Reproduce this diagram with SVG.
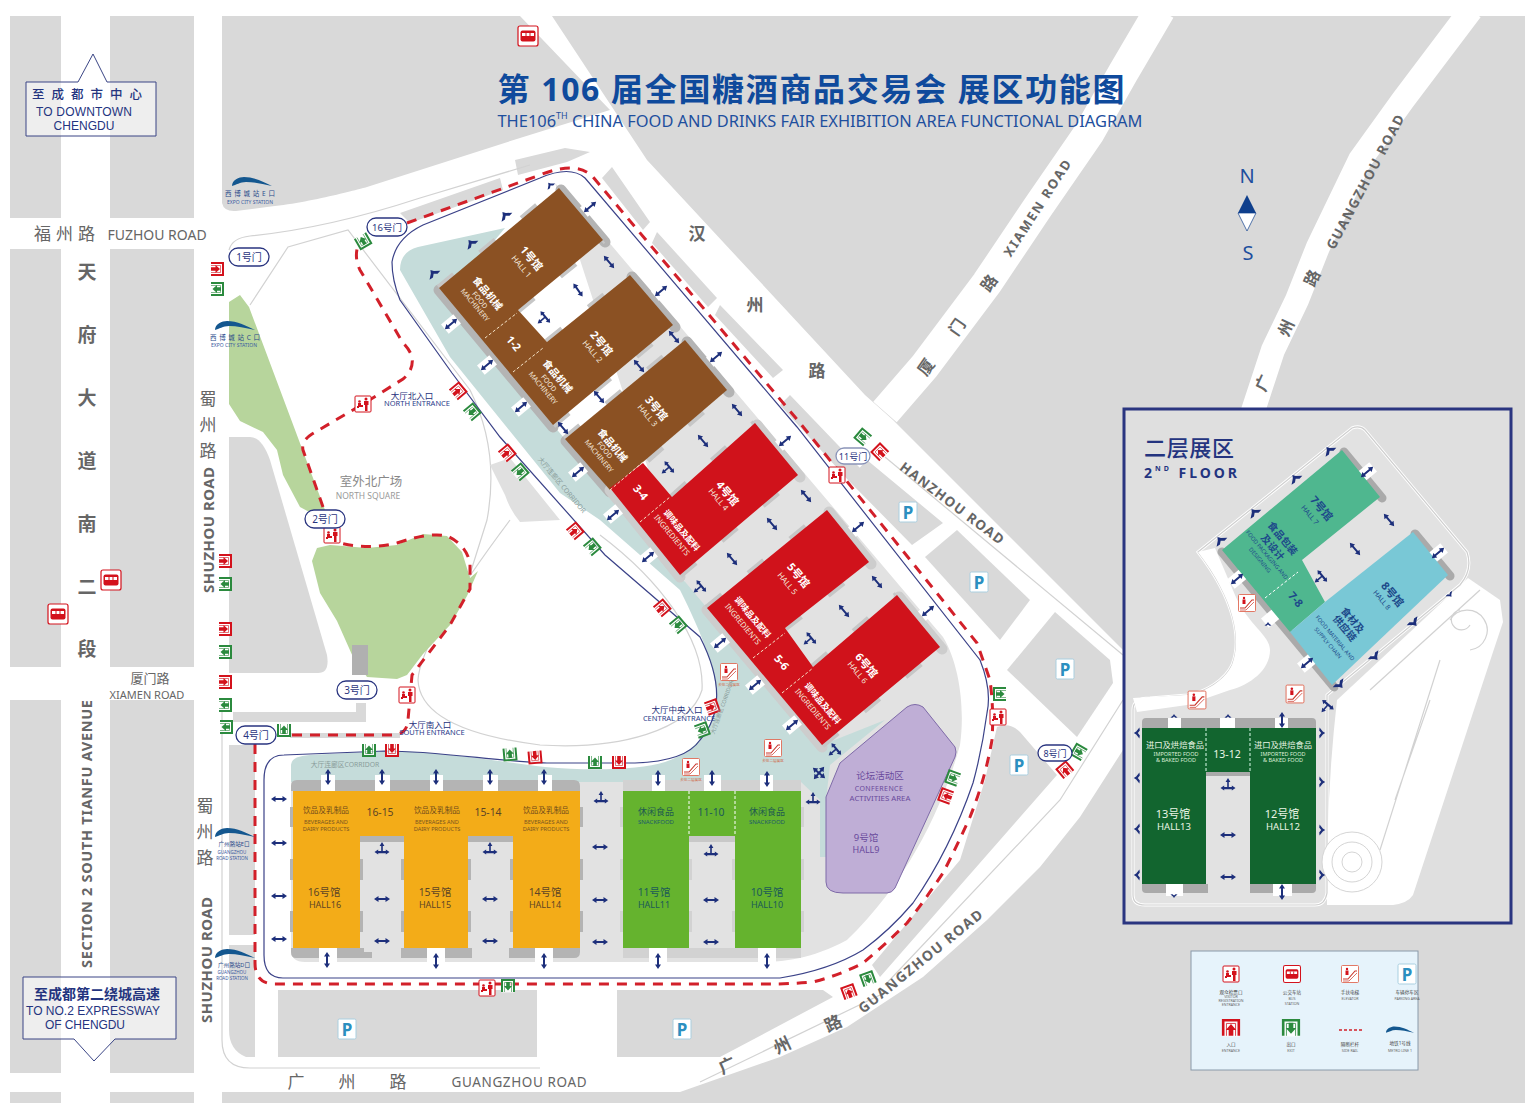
<svg xmlns="http://www.w3.org/2000/svg" width="1525" height="1115" viewBox="0 0 1525 1115">
<style>
text{font-family:"Noto Sans","Noto Sans CJK SC",sans-serif;text-anchor:middle;dominant-baseline:central}
.g{fill:#d9d9d9}.w{fill:#fff}
.rd{fill:#666}.rb{fill:#666;font-weight:700}
.thin{fill:none;stroke:#d2d2d2;stroke-width:1.2}
.dash{fill:none;stroke:#d2202a;stroke-width:3;stroke-dasharray:10 8}
.ring{fill:none;stroke:#3b4288;stroke-width:1.2}
.sd{stroke:#b4b4b4;stroke-width:11;stroke-linecap:round}
.sl{stroke:#cdcdcd;stroke-width:11;stroke-linecap:round}
.bt{stroke:#c6c6c6;stroke-width:7;stroke-dasharray:20 34}
.br{fill:#8b5123}.re{fill:#d0121b}.ye{fill:#f3ac18}.gr{fill:#65b32e}.dg{fill:#12652f}.g7{fill:#4fb78f}.b8{fill:#79c8d6}
.dl{fill:none;stroke:#f4e3c8;stroke-width:1;stroke-dasharray:3 2}
.hn{fill:#fff;font-size:11px;font-weight:700}.hs{fill:#f3e6da;font-size:8px}.hc{fill:#fff;font-size:10px;font-weight:700}.hz{fill:#f3e6da;font-size:7px}.hi{fill:#f3e6da;font-size:7.8px}.hq{fill:#fff;font-size:8.5px;font-weight:700}
.yc{fill:#6e4a1c;font-size:7.7px}.ys{fill:#7a5420;font-size:5.6px}.yb{fill:#5d4526;font-size:10.4px}.yh{fill:#5d4526;font-size:9px}
.gc{fill:#1e5a50;font-size:9px}.gs{fill:#1e5a6a;font-size:6px}.gb{fill:#1b5a58;font-size:10.4px}.gh{fill:#1b5a58;font-size:9px}
.p9{fill:#6a4a9c}
.na{fill:#24347f}.nb{fill:#1d2f7b;font-size:8.5px}.nc{fill:#2a3b8a;font-size:7.5px}
.gate{fill:#fff;stroke:#2a3580;stroke-width:1.3}.gt{fill:#2a3580;font-size:10px}
.co{fill:#8a9d9b;font-size:6.8px}
.lg{fill:#444;font-size:4.6px}.lh{fill:#666;font-size:3.6px}
.mt{fill:#2a4a8a;font-size:6.5px}.mb{fill:#3a5aa0;font-size:5px}.mu{fill:#2a4a8a;font-size:5.6px}.mv{fill:#3a5aa0;font-size:4.5px}
.door{fill:#fff}
.sn{font-family:"Liberation Sans",sans-serif;fill:#24347f}
</style>
<defs>
<path id="a" fill="#1d2f7b" d="M-8,0L-3.5,-3V-1H3.5V-3L8,0L3.5,3V1H-3.5V3Z"/>
<path id="t" fill="#1d2f7b" d="M0,-7L2.4,-3H.8V2H3.8V.4L7.5,3L3.8,5.6V4.2H-3.8V5.6L-7.5,3L-3.8,.4V2H-.8V-3H-2.4Z"/>
<path id="c" fill="#1d2f7b" d="M-7,3L-2,-1L0,-4L2,-1L7,3L3,3.5L0,1L-3,3.5Z"/>
<g id="x"><use href="#a"/><use href="#a" transform="rotate(90)"/></g>
<g id="en"><rect x="-6.5" y="-6.5" width="13" height="13" fill="#fff" opacity=".8"/><path d="M-6,6V-6H6V6" fill="none" stroke="#d3121c" stroke-width="2"/><path d="M-3.5,6V-3.5H3.5V6" fill="none" stroke="#d3121c" stroke-width=".6"/><path d="M0,-3L4,1.5H1.8V6H-1.8V1.5H-4Z" fill="#d3121c"/></g>
<g id="ex"><rect x="-6.5" y="-6.5" width="13" height="13" fill="#fff" opacity=".8"/><path d="M-6,6V-6H6V6" fill="none" stroke="#2b8a3e" stroke-width="2"/><path d="M-3.5,6V-3.5H3.5V6" fill="none" stroke="#2b8a3e" stroke-width=".6"/><path d="M0,4.5L4,0H1.8V-4H-1.8V0H-4Z" fill="#2b8a3e"/></g>
<g id="vi"><rect x="-8" y="-8" width="16" height="16" rx="1" fill="#fff" stroke="#d3121c" stroke-width="1"/><circle cx="-3.5" cy="-2.5" r="1.3" fill="#d3121c"/><path d="M-6,4V2H-5V-1H-2V1H0V3H-4V4Z" fill="#d3121c"/><circle cx="3" cy="-5" r="1.5" fill="#d3121c"/><path d="M1,-3H5.5V1H4.5V7H2V1H1Z" fill="#d3121c"/></g>
<g id="bu"><rect x="-10" y="-10" width="20" height="20" rx="2" fill="#fff" stroke="#d3121c" stroke-width="1.2"/><rect x="-7.5" y="-5.5" width="15" height="11" rx="2" fill="#d3121c"/><path d="M-6,-3H6V0H-6Z" fill="#fff"/><path d="M-2,-3V0M2,-3V0" stroke="#d3121c"/></g>
<g id="el"><rect x="-8.5" y="-8.5" width="17" height="17" rx="1" fill="#fff" stroke="#e06a55" stroke-width=".9"/><path d="M-7,5H-2L5,-3H7" fill="none" stroke="#c9372c" stroke-width="1.1"/><path d="M-7,7H-1L7,-1" fill="none" stroke="#c9372c" stroke-width=".7"/><circle cx="-3" cy="-5" r="1.2" fill="#d3121c"/><path d="M-4.5,-3.5H-1.5V1H-4.5Z" fill="#d3121c"/></g>
<g id="p"><rect x="-9" y="-10" width="18" height="20" rx="1.5" fill="#fff" stroke="#a9cfe0"/><text y="0" font-size="17" font-weight="700" fill="#2b8fc0">P</text></g>
<path id="me" fill="#14578f" d="M-20,4C-20,-2-13,-5-8,-5C2,-5 12,0 20,4C10,2 2,0-6,0C-12,0-16,3-20,4Z"/>
</defs>

<g id="base">
<rect x="10" y="16" width="1515" height="1087" class="g"/>
<path class="w" d="M61,16H110V1103H61ZM194,16H222V1103H194ZM0,218H230V249H0ZM0,667H222V700H0ZM0,1073H230V1092H0Z"/>
<path class="w" d="M222,203Q224,212 236,211L267,207C310,203 367,187 367,187L520,138L610,110L520,16H552L647,160L865,395L893,420L1123,650V750L1080,817L1040,867L987,920L923,977L847,1027L780,1057L680,1092H194V218Z"/>
<path fill="none" stroke="#fff" stroke-width="31" d="M1160,10L1123,73L1089,133L1038,207L987,283L924,367L885,412"/>
<path fill="none" stroke="#fff" stroke-width="24" d="M1471,10L1403,100L1360,160L1318,247L1297,300L1273,350L1250,420"/>
<path class="g" d="M229,437H250Q262,437 270,460L327,655Q330,673 318,673H229Z"/>
<path class="g" d="M233,712H356V703H366V722H233Z"/>
<path class="g" d="M290,733H400V738H290Z"/>
<path class="g" d="M229,745H255V935H229ZM229,945H255V1057H246Q229,1050 229,1030Z"/>
<path class="g" d="M278,990H537V1057H278ZM617,990H823L833,997L720,1057H617Z"/>
<path class="g" d="M400,213L500,178L503,190L410,223ZM515,160L565,148L590,152L567,162L518,175Z"/>
<path class="g" d="M612,167L650,222L643,230L602,178ZM657,232L717,298L708,307L652,243ZM720,305L783,370L773,378L715,315ZM790,395L860,468L848,480L780,405ZM867,460L943,523L912,545L848,480Z"/>
<path class="g" d="M925,557L957,530L1030,600L1000,640Z"/>
<path class="g" d="M1007,670L1055,612L1110,660L1113,683L1077,737Z"/>
<path class="g" d="M997,727Q1010,722 1020,732L1057,775L880,977L872,965L960,860L985,780Z"/>
<path class="thin" d="M229,250Q232,238 250,236C290,232 350,221 420,198L530,165"/>
<path class="thin" d="M250,305L288,247L348,230L470,390Q500,450 487,520L465,590"/>
<path class="thin" d="M222,700V1040Q222,1068 250,1068H540"/>
<path class="thin" d="M885,985L1060,800L1123,700"/>
<path class="thin" d="M700,1082L880,995"/>
<path class="thin" d="M885,457L1123,655"/>
<path class="thin" d="M510,520Q420,640 418,680Q420,730 540,745C620,750 690,730 702,690C705,640 660,580 600,535"/>
<path fill="#e0e0e0" d="M490,465L510,458L560,520L520,522Q510,510 505,495Z"/>
<path fill="#b7d59c" d="M229,302L240,295L249,307L325,510L313,514L300,507L283,475L277,450L263,432L240,421L229,404Z"/>
<path fill="#b7d59c" d="M312,561L317,548L330,545L343,546L367,548L397,545L423,534L447,536L462,552L470,578L478,571L467,596L450,625L423,654L407,675L397,679L367,677L353,657L337,621L320,593Z"/>
<rect x="352" y="645" width="16" height="30" fill="#b0b0b0"/>
<path fill="#e2e2e2" d="M555,183L607,240L943,637C960,665 965,710 960,745C945,800 910,880 847,940C810,960 780,962 760,962H305Q291,962 291,950V782H805L720,690Z"/>
<path fill="#c5dcda" d="M400,270C400,258 406,250 418,247L505,228L470,270L553,425L600,480L707,608L822,745L885,720L830,765L826,800V857H820V800L801,782H291V765C292,758 298,756 310,755L385,751C440,751 500,762 545,767C590,771 640,770 665,762C695,752 712,730 716,705C720,680 705,640 680,590L600,520L560,493L450,357Z"/>
</g>

<g id="connectors">
<path class="ring" d="M392,262Q396,238 423,225L540,178Q570,165 585,178L797,427L980,660Q992,690 987,713Q982,750 973,783Q950,850 913,903Q890,930 863,950Q830,970 780,978H283Q264,978 264,955V780Q264,755 284,755L385,751C440,751 500,762 547,763H635C665,762 690,755 700,740C722,715 722,680 700,637L605,555L500,437L452,373L400,300Q392,280 392,262Z"/>
<path class="dash" d="M407,223L540,175Q577,160 593,177L800,423L977,643L990,680Q994,710 992,740Q985,780 970,817Q955,850 943,873Q925,900 907,923Q885,945 863,963Q840,975 813,982Q790,984 770,984H275Q255,984 255,963V735"/>
<path class="dash" d="M292,735H392Q407,735 408,720L412,675L450,625L470,589V564Q467,545 447,536Q430,532 397,543Q370,550 340,543"/>
<path class="dash" d="M323,507L303,450Q301,441 312,434L363,404L403,379Q414,370 412,357Q410,350 403,343L360,270Q354,258 358,245"/>
</g>

<g id="hall-strips">
<path class="sd" d="M561,190L605,242M632,277L675,327M687,342L729,392M439,290L553,427M566,441L610,492"/>
<path class="sl" d="M757,425L800,477M829,512L871,564M899,597L942,649M610,490L680,577M707,610L822,747"/>
<path class="bt" d="M439,288L559,188M518,310L603,240M547,342L630,275M553,425L673,325M565,439L685,340M647,460L727,390M672,497L755,423M680,575L798,475M707,608L827,510M785,628L869,562M813,667L897,595M822,745L940,647"/>
<g class="door">
<rect x="-8" y="-6" width="16" height="12" transform="translate(590,207) rotate(-40)"/>
<rect x="-8" y="-6" width="16" height="12" transform="translate(661,291) rotate(-40)"/>
<rect x="-8" y="-6" width="16" height="12" transform="translate(716,357) rotate(-40)"/>
<rect x="-8" y="-6" width="16" height="12" transform="translate(785,441) rotate(-40)"/>
<rect x="-8" y="-6" width="16" height="12" transform="translate(858,527) rotate(-40)"/>
<rect x="-8" y="-6" width="16" height="12" transform="translate(928,611) rotate(-40)"/>
<rect x="-8" y="-6" width="16" height="12" transform="translate(451,324) rotate(-40)"/>
<rect x="-8" y="-6" width="16" height="12" transform="translate(487,365) rotate(-40)"/>
<rect x="-8" y="-6" width="16" height="12" transform="translate(521,407) rotate(-40)"/>
<rect x="-8" y="-6" width="16" height="12" transform="translate(578,472) rotate(-40)"/>
<rect x="-8" y="-6" width="16" height="12" transform="translate(613,514) rotate(-40)"/>
<rect x="-8" y="-6" width="16" height="12" transform="translate(648,557) rotate(-40)"/>
<rect x="-8" y="-6" width="16" height="12" transform="translate(720,643) rotate(-40)"/>
<rect x="-8" y="-6" width="16" height="12" transform="translate(755,685) rotate(-40)"/>
<rect x="-8" y="-6" width="16" height="12" transform="translate(792,725) rotate(-40)"/>
</g>
<path fill="#b4b4b4" d="M291,791V786Q291,780 297,780H574Q580,780 580,786V791ZM291,948H364V952H372V958H296Q291,958 291,952ZM401,948H472V958H401ZM509,948H580V952Q580,958 574,958H509Z"/>
<path fill="#d2d2d2" d="M623,791V780H801V791ZM623,948H801V958H623Z"/>
<path fill="#b4b4b4" d="M360,836H404V842H360ZM468,836H513V842H468Z"/>
<path fill="#c8c8c8" d="M689,836H735V842H689Z"/>
<path fill="#b4b4b4" d="M290,807H293V827H290ZM290,859H293V880H290ZM290,911H293V932H290ZM360,859H363V880H360ZM360,911H363V932H360ZM401,859H404V880H401ZM401,911H404V932H401ZM468,859H471V880H468ZM468,911H471V932H468ZM510,859H513V880H510ZM510,911H513V932H510ZM580,807H583V827H580ZM580,859H583V880H580ZM580,911H583V932H580Z"/>
<path fill="#d2d2d2" d="M620,807H623V827H620ZM620,859H623V880H620ZM620,911H623V932H620ZM689,859H692V880H689ZM689,911H692V932H689ZM732,859H735V880H732ZM732,911H735V932H732ZM801,807H804V827H801ZM801,859H804V880H801ZM801,911H804V932H801Z"/>
<path class="door" d="M321,775H335V791H321ZM375,775H390V791H375ZM430,775H443V791H430ZM483,775H498V791H483ZM538,775H552V791H538ZM652,775H665V791H652ZM704,775H721V791H704ZM760,775H773V791H760ZM319,948H337V962H319ZM427,948H445V962H427ZM535,948H553V962H535ZM649,948H667V962H649ZM758,948H776V962H758Z"/>
</g>

<g id="hall-1-2">
<path class="br" d="M559,188L603,240L518,310L547,342L630,275L673,325L553,425L439,288Z"/>
<path class="dl" d="M485,338L517,313M513,372L543,348"/>
<text class="hn" transform="translate(532,258) rotate(50)">1号馆</text><text class="hs" transform="translate(522,266) rotate(50)">HALL 1</text>
<text class="hc" transform="translate(488,293) rotate(50)">食品机械</text><text class="hz" transform="translate(480,300) rotate(50)">FOOD</text><text class="hz" transform="translate(475,305) rotate(50)">MACHINERY</text>
<text class="hn" transform="translate(514,343) rotate(50)">1-2</text>
<text class="hn" transform="translate(602,343) rotate(50)">2号馆</text><text class="hs" transform="translate(593,351) rotate(50)">HALL 2</text>
<text class="hc" transform="translate(558,376) rotate(50)">食品机械</text><text class="hz" transform="translate(549,383) rotate(50)">FOOD</text><text class="hz" transform="translate(543,388) rotate(50)">MACHINERY</text>
</g>
<g id="hall-3">
<path class="br" d="M685,340L727,390L643,462L610,490L565,439Z"/>
<text class="hn" transform="translate(657,408) rotate(50)">3号馆</text><text class="hs" transform="translate(648,415) rotate(50)">HALL 3</text>
<text class="hc" transform="translate(613,445) rotate(50)">食品机械</text><text class="hz" transform="translate(605,450) rotate(50)">FOOD</text><text class="hz" transform="translate(599,456) rotate(50)">MACHINERY</text>
</g>
<g id="hall-4">
<path class="re" d="M610,488L643,463L672,497L755,423L798,475L680,575Z"/>
<path class="dl" d="M610,490L643,462M640,522L670,497"/>
<text class="hn" transform="translate(641,492) rotate(50)">3-4</text>
<text class="hn" transform="translate(728,493) rotate(50)">4号馆</text><text class="hs" transform="translate(719,499) rotate(50)">HALL 4</text>
<text class="hq" transform="translate(682,530) rotate(50)">调味品及配料</text><text class="hi" transform="translate(672,535) rotate(50)">INGREDIENTS</text>
</g>
<g id="hall-5-6">
<path class="re" d="M707,608L827,510L869,562L785,628L813,667L897,595L940,647L822,745Z"/>
<path class="dl" d="M753,658L785,633M782,693L813,668"/>
<text class="hn" transform="translate(799,575) rotate(50)">5号馆</text><text class="hs" transform="translate(788,583) rotate(50)">HALL 5</text>
<text class="hq" transform="translate(753,617) rotate(50)">调味品及配料</text><text class="hi" transform="translate(743,624) rotate(50)">INGREDIENTS</text>
<text class="hn" transform="translate(782,662) rotate(50)">5-6</text>
<text class="hn" transform="translate(867,665) rotate(50)">6号馆</text><text class="hs" transform="translate(858,672) rotate(50)">HALL 6</text>
<text class="hq" transform="translate(823,703) rotate(50)">调味品及配料</text><text class="hi" transform="translate(813,709) rotate(50)">INGREDIENTS</text>
</g>
<g id="hall-9">
<path fill="#bfaed6" stroke="#7e6aa8" d="M826,797L840,763L907,707Q915,702 923,707L955,747Q957,752 955,757L895,888Q892,893 887,893H843Q826,893 826,882Z"/>
<text class="p9" x="880" y="775" font-size="9.5">论坛活动区</text>
<text class="p9" x="879" y="788" font-size="7" letter-spacing=".4">CONFERENCE</text>
<text class="p9" x="880" y="798" font-size="7.8">ACTIVITIES AREA</text>
<text class="p9" x="866" y="837" font-size="9.5">9号馆</text>
<text class="p9" x="866" y="849" font-size="9">HALL9</text>
</g>
<g id="hall-16-15-14">
<path class="ye" d="M293,791H580V948H513V836H468V948H404V836H360V948H293Z"/>
<text class="yc" x="326" y="810">饮品及乳制品</text><text class="ys" x="326" y="822">BEVERAGES AND</text><text class="ys" x="326" y="829">DAIRY PRODUCTS</text>
<text class="yb" x="380" y="812">16-15</text><text class="yb" x="324" y="892">16号馆</text><text class="yh" x="325" y="904">HALL16</text>
<text class="yc" x="437" y="810">饮品及乳制品</text><text class="ys" x="437" y="822">BEVERAGES AND</text><text class="ys" x="437" y="829">DAIRY PRODUCTS</text>
<text class="yb" x="488" y="812">15-14</text><text class="yb" x="435" y="892">15号馆</text><text class="yh" x="435" y="904">HALL15</text>
<text class="yc" x="546" y="810">饮品及乳制品</text><text class="ys" x="546" y="822">BEVERAGES AND</text><text class="ys" x="546" y="829">DAIRY PRODUCTS</text>
<text class="yb" x="545" y="892">14号馆</text><text class="yh" x="545" y="904">HALL14</text>
</g>
<g id="hall-11-10">
<path class="gr" d="M623,791H801V948H735V836H689V948H623Z"/>
<path fill="none" stroke="#fff" stroke-dasharray="3 2" d="M689,791V836M735,791V836"/>
<text class="gc" x="656" y="811">休闲食品</text><text class="gs" x="656" y="822">SNACKFOOD</text>
<text class="gb" x="711" y="812">11-10</text>
<text class="gc" x="767" y="811">休闲食品</text><text class="gs" x="767" y="822">SNACKFOOD</text>
<text class="gb" x="654" y="892">11号馆</text><text class="gh" x="654" y="904">HALL11</text>
<text class="gb" x="767" y="892">10号馆</text><text class="gh" x="767" y="904">HALL10</text>
</g>

<g id="arrows">
<use href="#a" transform="translate(590,207) rotate(-40)"/><use href="#a" transform="translate(609,262) rotate(50)"/><use href="#a" transform="translate(578,290) rotate(55)"/><use href="#a" transform="translate(661,291) rotate(-40)"/><use href="#a" transform="translate(674,337) rotate(50)"/><use href="#a" transform="translate(639,366) rotate(50)"/><use href="#a" transform="translate(599,397) rotate(50)"/><use href="#a" transform="translate(563,428) rotate(50)"/><use href="#a" transform="translate(716,357) rotate(-40)"/><use href="#a" transform="translate(737,410) rotate(50)"/><use href="#a" transform="translate(703,441) rotate(50)"/><use href="#a" transform="translate(785,441) rotate(-40)"/><use href="#a" transform="translate(451,324) rotate(-40)"/><use href="#a" transform="translate(487,365) rotate(-40)"/><use href="#a" transform="translate(521,407) rotate(-40)"/><use href="#a" transform="translate(578,472) rotate(-40)"/><use href="#a" transform="translate(613,515) rotate(-40)"/><use href="#a" transform="translate(648,557) rotate(-40)"/>
<use href="#a" transform="translate(806,496) rotate(50)"/><use href="#a" transform="translate(772,524) rotate(50)"/><use href="#a" transform="translate(732,559) rotate(50)"/><use href="#a" transform="translate(858,527) rotate(-40)"/><use href="#a" transform="translate(877,582) rotate(50)"/><use href="#a" transform="translate(844,611) rotate(50)"/><use href="#a" transform="translate(928,611) rotate(-40)"/><use href="#a" transform="translate(720,643) rotate(-40)"/><use href="#a" transform="translate(755,685) rotate(-40)"/><use href="#a" transform="translate(792,725) rotate(-40)"/>
<use href="#t" transform="translate(543,319) rotate(-130)"/><use href="#t" transform="translate(667,469) rotate(-130)"/><use href="#t" transform="translate(699,588) rotate(-130)"/><use href="#t" transform="translate(809,640) rotate(-130)"/><use href="#t" transform="translate(834,751) rotate(-130)"/>
<use href="#c" transform="translate(550,185) rotate(-40) scale(.7)"/><use href="#c" transform="translate(505,215) rotate(-40)"/><use href="#c" transform="translate(471,243) rotate(-40)"/><use href="#c" transform="translate(433,273) rotate(-40)"/>
<use href="#x" transform="translate(819,773) rotate(40)"/>
<use href="#a" transform="translate(328,777) rotate(90)"/><use href="#a" transform="translate(382,777) rotate(90)"/><use href="#a" transform="translate(436,777) rotate(90)"/><use href="#a" transform="translate(490,777) rotate(90)"/><use href="#a" transform="translate(544,777) rotate(90)"/><use href="#a" transform="translate(658,778) rotate(90)"/><use href="#a" transform="translate(712,778) rotate(90)"/><use href="#a" transform="translate(767,779) rotate(90)"/>
<use href="#a" transform="translate(279,799)"/><use href="#a" transform="translate(279,843)"/><use href="#a" transform="translate(279,896)"/><use href="#a" transform="translate(279,939)"/>
<use href="#t" transform="translate(382,849)"/><use href="#t" transform="translate(490,849)"/><use href="#t" transform="translate(601,798)"/><use href="#t" transform="translate(711,851)"/><use href="#t" transform="translate(813,799)"/>
<use href="#a" transform="translate(382,899)"/><use href="#a" transform="translate(382,941)"/><use href="#a" transform="translate(490,899)"/><use href="#a" transform="translate(490,941)"/><use href="#a" transform="translate(600,847)"/><use href="#a" transform="translate(600,900)"/><use href="#a" transform="translate(600,942)"/><use href="#a" transform="translate(711,900)"/><use href="#a" transform="translate(711,942)"/>
<use href="#a" transform="translate(327,960) rotate(90)"/><use href="#a" transform="translate(436,961) rotate(90)"/><use href="#a" transform="translate(544,961) rotate(90)"/><use href="#a" transform="translate(658,961) rotate(90)"/><use href="#a" transform="translate(767,961) rotate(90)"/>
</g>

<g id="entrances">
<use href="#en" transform="translate(217,269) rotate(90)"/><use href="#ex" transform="translate(217,289) rotate(90)"/><use href="#en" transform="translate(225,561) rotate(90)"/><use href="#ex" transform="translate(225,584) rotate(90)"/><use href="#en" transform="translate(225,629) rotate(90)"/><use href="#ex" transform="translate(225,652) rotate(90)"/><use href="#en" transform="translate(225,682) rotate(90)"/><use href="#ex" transform="translate(225,705) rotate(90)"/><use href="#ex" transform="translate(226,727) rotate(90)"/>
<use href="#ex" transform="translate(284,730) rotate(180)"/><use href="#ex" transform="translate(363,241) rotate(150)"/>
<use href="#en" transform="translate(458,391) rotate(50)"/><use href="#ex" transform="translate(472,412) rotate(50)"/><use href="#en" transform="translate(507,453) rotate(50)"/><use href="#ex" transform="translate(520,472) rotate(50)"/><use href="#en" transform="translate(575,531) rotate(50)"/><use href="#ex" transform="translate(592,547) rotate(50)"/><use href="#en" transform="translate(662,608) rotate(50)"/><use href="#ex" transform="translate(678,625) rotate(50)"/><use href="#en" transform="translate(712,707) rotate(70)"/><use href="#ex" transform="translate(702,730) rotate(70)"/>
<use href="#ex" transform="translate(369,750) rotate(180)"/><use href="#en" transform="translate(392,750) rotate(180)"/><use href="#ex" transform="translate(510,754) rotate(175)"/><use href="#en" transform="translate(535,757) rotate(175)"/><use href="#ex" transform="translate(595,762) rotate(180)"/><use href="#en" transform="translate(619,762) rotate(180)"/>
<use href="#ex" transform="translate(508,986)"/><use href="#en" transform="translate(849,992) rotate(-20)"/><use href="#ex" transform="translate(868,979) rotate(-20)"/>
<use href="#ex" transform="translate(1000,694) rotate(-90)"/><use href="#ex" transform="translate(953,778) rotate(-70)"/><use href="#en" transform="translate(946,796) rotate(-70)"/><use href="#ex" transform="translate(1079,752) rotate(-60)"/><use href="#en" transform="translate(1065,770) rotate(-40)"/><use href="#ex" transform="translate(863,437) rotate(-50)"/><use href="#en" transform="translate(880,452) rotate(-45)"/>
<use href="#vi" x="363" y="404"/><use href="#vi" x="332" y="535"/><use href="#vi" x="407" y="695"/><use href="#vi" x="487" y="988"/><use href="#vi" x="998" y="717"/><use href="#vi" x="837" y="475"/>
<use href="#el" x="729" y="672"/><use href="#el" x="773" y="748"/><use href="#el" x="691" y="767"/>
<text fill="#d0603a" font-size="3.6" x="729" y="684">去往二层展区</text><text fill="#d0603a" font-size="3.6" x="773" y="760">去往二层展区</text><text fill="#d0603a" font-size="3.6" x="691" y="779">去往二层展区</text>
<use href="#bu" x="528" y="36"/><use href="#bu" x="111" y="580"/><use href="#bu" x="58" y="614"/>
<use href="#p" x="908" y="512"/><use href="#p" x="979" y="582"/><use href="#p" x="1065" y="669"/><use href="#p" x="1019" y="765"/><use href="#p" x="347" y="1029"/><use href="#p" x="682" y="1029"/>
</g>

<g id="gates">
<g id="gate-1"><rect class="gate" x="229" y="248" width="40" height="18" rx="9"/><text class="gt" x="249" y="257">1号门</text></g>
<g id="gate-16"><rect class="gate" x="367" y="218" width="40" height="18" rx="9"/><text class="gt" x="387" y="227" style="font-size:9.5px">16号门</text></g>
<g id="gate-2"><rect class="gate" x="305" y="510" width="40" height="18" rx="9"/><text class="gt" x="325" y="519">2号门</text></g>
<g id="gate-3"><rect class="gate" x="337" y="681" width="40" height="18" rx="9"/><text class="gt" x="357" y="690">3号门</text></g>
<g id="gate-4"><rect class="gate" x="236" y="726" width="40" height="18" rx="9"/><text class="gt" x="256" y="735">4号门</text></g>
<g id="gate-8"><rect class="gate" x="1038" y="745" width="34" height="16" rx="8"/><text class="gt" x="1055" y="753" style="font-size:9px">8号门</text></g>
<g id="gate-11"><rect class="gate" x="836" y="448" width="34" height="16" rx="8" style="stroke:#8a94b8"/><text class="gt" x="853" y="456" style="font-size:9px">11号门</text></g>
</g>

<g id="labels">
<text class="nb" x="412" y="395">大厅北入口</text><text class="nc" x="417" y="403">NORTH ENTRANCE</text>
<text class="nb" x="430" y="724">大厅南入口</text><text class="nc" x="432" y="732">SOUTH ENTRANCE</text>
<text class="nb" x="677" y="709">大厅中央入口</text><text class="nc" x="679" y="718">CENTRAL ENTRANCE</text>
<text fill="#888" font-size="12.5" x="371" y="481">室外北广场</text><text fill="#999" font-size="8.5" x="368" y="495">NORTH SQUARE</text>
<text class="co" transform="translate(562,485) rotate(50)">大厅连廊区 CORRIDOR</text>
<text class="co" x="345" y="764">大厅连廊区CORRIDOR</text>
<text class="co" transform="translate(722,707) rotate(-70)" style="font-size:5.5px">大厅连廊区 CORRIDOR</text>
</g>

<g id="stations">
<use href="#me" x="252" y="182"/><text class="mt" x="250" y="193" textLength="50" lengthAdjust="spacing">西博城站E口</text><text class="mb" x="250" y="202">EXPO CITY STATION</text>
<use href="#me" x="235" y="326"/><text class="mt" x="235" y="337" textLength="50" lengthAdjust="spacing">西博城站C口</text><text class="mb" x="234" y="345">EXPO CITY STATION</text>
<use href="#me" x="235" y="833"/><text class="mu" x="234" y="844">广州路站E口</text><text class="mv" x="232" y="852">GUANGZHOU</text><text class="mv" x="232" y="858">ROAD STATION</text>
<use href="#me" x="235" y="954"/><text class="mu" x="234" y="965">广州路站D口</text><text class="mv" x="232" y="972">GUANGZHOU</text><text class="mv" x="232" y="978">ROAD STATION</text>
</g>

<g id="road-labels">
<text class="rd" x="67" y="233" font-size="17" letter-spacing="5">福州路</text><text class="rd" x="157" y="234" font-size="14">FUZHOU ROAD</text>
<text class="rb" font-size="19" x="87" y="272">天</text><text class="rb" font-size="19" x="87" y="335">府</text><text class="rb" font-size="19" x="87" y="398">大</text><text class="rb" font-size="19" x="87" y="461">道</text><text class="rb" font-size="19" x="87" y="524">南</text><text class="rb" font-size="19" x="87" y="587">二</text><text class="rb" font-size="19" x="87" y="649">段</text>
<text class="rb" font-size="14.5" transform="translate(86,834) rotate(-90)" textLength="268" lengthAdjust="spacing">SECTION 2 SOUTH TIANFU AVENUE</text>
<text class="rd" font-size="17" x="208" y="398">蜀</text><text class="rd" font-size="17" x="208" y="424">州</text><text class="rd" font-size="17" x="208" y="450">路</text>
<text class="rb" font-size="15" transform="translate(208,530) rotate(-90)" textLength="126" lengthAdjust="spacing">SHUZHOU ROAD</text>
<text class="rd" font-size="17" x="205" y="805">蜀</text><text class="rd" font-size="17" x="205" y="831">州</text><text class="rd" font-size="17" x="205" y="857">路</text>
<text class="rb" font-size="15" transform="translate(206,960) rotate(-90)" textLength="126" lengthAdjust="spacing">SHUZHOU ROAD</text>
<text class="rd" font-size="13" x="150" y="678">厦门路</text><text class="rd" font-size="11" x="147" y="694">XIAMEN ROAD</text>
<text class="rd" font-size="17" x="296" y="1081">广</text><text class="rd" font-size="17" x="347" y="1081">州</text><text class="rd" font-size="17" x="398" y="1081">路</text>
<text class="rd" font-size="13.5" x="519" y="1082" textLength="135" lengthAdjust="spacing">GUANGZHOU ROAD</text>
<text class="rb" font-size="17" x="697" y="233">汉</text><text class="rb" font-size="17" x="755" y="304">州</text><text class="rb" font-size="17" x="817" y="370">路</text>
<text class="rb" font-size="13.5" transform="translate(952,503) rotate(37)" textLength="126" lengthAdjust="spacing">HANZHOU ROAD</text>
<text class="rb" font-size="16" transform="translate(926,367) rotate(-55)">厦</text><text class="rb" font-size="16" transform="translate(957,327) rotate(-55)">门</text><text class="rb" font-size="16" transform="translate(989,283) rotate(-55)">路</text>
<text class="rb" font-size="13" transform="translate(1037,208) rotate(-57)" textLength="112" lengthAdjust="spacing">XIAMEN ROAD</text>
<text class="rb" font-size="16" transform="translate(1263,383) rotate(-65)">广</text><text class="rb" font-size="16" transform="translate(1286,328) rotate(-65)">州</text><text class="rb" font-size="16" transform="translate(1312,278) rotate(-65)">路</text>
<text class="rb" font-size="13.5" transform="translate(1365,182) rotate(-62)" textLength="150" lengthAdjust="spacing">GUANGZHOU ROAD</text>
<text class="rb" font-size="17" transform="translate(727,1065) rotate(-25)">广</text><text class="rb" font-size="17" transform="translate(782,1045) rotate(-25)">州</text><text class="rb" font-size="17" transform="translate(833,1023) rotate(-25)">路</text>
<text class="rb" font-size="14" transform="translate(920,961) rotate(-39)" textLength="155" lengthAdjust="spacing">GUANGZHOU ROAD</text>
</g>

<g id="title">
<text x="811" y="88" font-size="32" font-weight="700" fill="#0f4a9c" textLength="627" lengthAdjust="spacing">第 106 届全国糖酒商品交易会 展区功能图</text>
<text x="820" y="120" font-size="16.5" fill="#1e4f9e" textLength="645" lengthAdjust="spacingAndGlyphs">THE106<tspan font-size="9" dy="-5">TH</tspan><tspan dy="5"> CHINA FOOD AND DRINKS FAIR  EXHIBITION AREA FUNCTIONAL DIAGRAM</tspan></text>
</g>

<g id="compass">
<text x="1247" y="175" font-size="20" fill="#1e4f9e">N</text>
<path d="M1247,195L1256,213H1238Z" fill="#0f3f8c"/><path d="M1238,213H1256L1247,231Z" fill="#fff" stroke="#0f3f8c" stroke-width=".7"/>
<text x="1248" y="252" font-size="20" fill="#1e4f9e">S</text>
</g>

<g id="to-downtown">
<path d="M26,82H78L93,54L107,82H156V136H26Z" fill="#fff" fill-opacity=".55" stroke="#3a4585"/>
<text x="87" y="94" font-size="12.5" fill="#24347f" font-weight="500" textLength="110" lengthAdjust="spacing">至成都市中心</text>
<text class="sn" x="84" y="112" font-size="12" textLength="96" lengthAdjust="spacing">TO DOWNTOWN</text><text class="sn" x="84" y="126" font-size="12" textLength="61" lengthAdjust="spacing">CHENGDU</text>
</g>
<g id="to-expressway">
<path d="M23,977H176V1039H115L94,1061L74,1039H23Z" fill="#fff" fill-opacity=".55" stroke="#3a4585"/>
<text x="97" y="993" font-size="14" font-weight="700" fill="#24347f">至成都第二绕城高速</text>
<text class="sn" x="93" y="1011" font-size="12" textLength="134" lengthAdjust="spacing">TO NO.2 EXPRESSWAY</text><text class="sn" x="85" y="1025" font-size="12" textLength="80" lengthAdjust="spacing">OF CHENGDU</text>
</g>

<g id="second-floor">
<rect x="1124" y="409" width="387" height="514" fill="#dfdfdf" stroke="#2a3580" stroke-width="3"/>
<path fill="#fff" d="M1337,700L1468,578L1500,600L1503,622L1493,652L1413,895Q1408,903 1393,905H1327V860Q1328,780 1337,700Z"/>
<path fill="#e2e2e2" stroke="#fff" stroke-width="3" d="M1198,552L1352,428Q1360,425 1365,430L1467,552Q1473,570 1460,585L1327,695V893Q1325,905 1315,905H1145Q1133,905 1133,895V710Q1133,698 1150,698L1187,695C1205,693 1225,680 1232,665C1242,640 1235,600 1198,552Z"/>
<path fill="none" stroke="#cfcfcf" stroke-width="1.2" d="M1198,552L1352,428Q1360,425 1365,430L1467,552Q1473,570 1460,585L1327,695V893Q1325,905 1315,905H1145Q1133,905 1133,895V710Q1133,698 1150,698L1187,695C1205,693 1225,680 1232,665C1242,640 1235,600 1198,552Z"/>
<path fill="#fff" d="M1198,552L1215,548L1235,595C1248,625 1270,635 1270,650C1270,670 1250,685 1230,690L1187,705L1137,712L1133,698L1187,695C1205,693 1225,680 1232,665C1242,640 1235,600 1198,552Z"/>
<circle cx="1352" cy="862" r="30" fill="#fff" stroke="#d5d5d5"/><circle cx="1352" cy="862" r="20" fill="none" stroke="#d5d5d5"/><circle cx="1352" cy="862" r="10" fill="none" stroke="#d5d5d5"/>
<path class="thin" d="M1450,620A20,20 0 1,1 1470,650M1460,610A10,10 0 1,0 1470,625M1370,690L1480,590M1440,660L1380,850M1430,700L1395,800"/>
<path stroke="#aaa" stroke-width="9" stroke-linecap="round" d="M1344,452L1382,498M1415,534L1450,576M1222,552L1290,634M1290,634L1334,687"/>
<rect class="door" x="-8" y="-6" width="16" height="12" transform="translate(1367,472) rotate(-40)"/>
<rect class="door" x="-8" y="-6" width="16" height="12" transform="translate(1438,553) rotate(-40)"/>
<rect class="door" x="-8" y="-6" width="16" height="12" transform="translate(1237,579) rotate(-40)"/>
<rect class="door" x="-8" y="-6" width="16" height="12" transform="translate(1271,618) rotate(-40)"/>
<rect class="door" x="-8" y="-6" width="16" height="12" transform="translate(1307,663) rotate(-40)"/>
<path fill="#aaa" d="M1142,728V722Q1142,718 1146,718H1312Q1316,718 1316,722V728ZM1142,884H1208V893H1146Q1142,893 1142,889ZM1250,884H1316V889Q1316,893 1312,893H1250Z"/>
<path class="door" d="M1168,718H1181V728H1168ZM1220,718H1235V728H1220ZM1275,718H1288V728H1275ZM1166,884H1183V896H1166ZM1273,884H1292V896H1273Z"/>
<path fill="#aaa" d="M1206,772H1250V776H1206Z"/>
<g id="hall-7"><path class="g7" d="M1342,450L1380,497L1302,560L1325,602L1290,632L1222,550Z"/>
<path fill="none" stroke="#fff" stroke-dasharray="3 2" d="M1265,598L1298,572"/>
<text font-size="11" font-weight="700" fill="#1d4a8a" transform="translate(1322,508) rotate(50)">7号馆</text><text font-size="7" fill="#1d4a8a" transform="translate(1310,515) rotate(50)">HALL 7</text>
<text font-size="10" font-weight="700" fill="#1d4a8a" transform="translate(1283,538) rotate(50)">食品包装</text><text font-size="10" font-weight="700" fill="#1d4a8a" transform="translate(1273,547) rotate(50)">及设计</text>
<text font-size="5.6" fill="#1d4a8a" transform="translate(1267,555) rotate(50)">FOOD PACKAGING AND</text><text font-size="5.6" fill="#1d4a8a" transform="translate(1260,560) rotate(50)">DESIGNING</text>
<text font-size="11" font-weight="700" fill="#1d4a8a" transform="translate(1296,599) rotate(50)">7-8</text></g>
<g id="hall-8"><path class="b8" d="M1413,532L1448,575L1332,685L1290,632L1325,602Z"/>
<text font-size="11" font-weight="700" fill="#1d4a8a" transform="translate(1393,594) rotate(50)">8号馆</text><text font-size="7" fill="#1d4a8a" transform="translate(1382,600) rotate(50)">HALL 8</text>
<text font-size="10" font-weight="700" fill="#1d4a8a" transform="translate(1353,620) rotate(50)">食材及</text><text font-size="10" font-weight="700" fill="#1d4a8a" transform="translate(1345,628) rotate(50)">供应链</text>
<text font-size="5.6" fill="#1d4a8a" transform="translate(1335,638) rotate(50)">FOOD MATERIAL AND</text><text font-size="5.6" fill="#1d4a8a" transform="translate(1328,643) rotate(50)">SUPPLY CHAIN</text></g>
<g id="hall-13-12"><path class="dg" d="M1142,728H1316V884H1250V772H1206V884H1142Z"/>
<path fill="none" stroke="#dfe" stroke-dasharray="3 2" d="M1206,728V772M1250,728V772"/>
<text font-size="8.3" fill="#eaf5e6" x="1175" y="744">进口及烘焙食品</text><text font-size="5.5" fill="#dcefd8" x="1176" y="754">IMPORTED FOOD</text><text font-size="5.5" fill="#dcefd8" x="1176" y="760">&amp; BAKED FOOD</text>
<text font-size="8.3" fill="#eaf5e6" x="1283" y="744">进口及烘焙食品</text><text font-size="5.5" fill="#dcefd8" x="1283" y="754">IMPORTED FOOD</text><text font-size="5.5" fill="#dcefd8" x="1283" y="760">&amp; BAKED FOOD</text>
<text font-size="10.5" fill="#eaf5e6" x="1227" y="754">13-12</text>
<text font-size="11" fill="#eaf5e6" x="1173" y="813">13号馆</text><text font-size="9.5" fill="#eaf5e6" x="1174" y="826">HALL13</text>
<text font-size="11" fill="#eaf5e6" x="1282" y="813">12号馆</text><text font-size="9.5" fill="#eaf5e6" x="1283" y="826">HALL12</text></g>
<text x="1144" y="447" font-size="22" font-weight="500" fill="#24347f" style="text-anchor:start" textLength="90">二层展区</text>
<text x="1144" y="472" font-size="14" font-weight="700" fill="#24347f" style="text-anchor:start" letter-spacing="3">2<tspan font-size="7" dy="-4">ND</tspan><tspan dy="4"> FLOOR</tspan></text>
<use href="#a" transform="translate(1367,472) rotate(-40)"/><use href="#a" transform="translate(1389,520) rotate(50)"/><use href="#a" transform="translate(1355,549) rotate(50)"/><use href="#a" transform="translate(1438,553) rotate(-40)"/><use href="#a" transform="translate(1237,579) rotate(-40)"/><use href="#a" transform="translate(1307,663) rotate(-40)"/>
<use href="#t" transform="translate(1320,578) rotate(-130)"/>
<use href="#c" transform="translate(1329,450) rotate(-40)"/><use href="#c" transform="translate(1295,478) rotate(-40)"/><use href="#c" transform="translate(1254,512) rotate(-40)"/><use href="#c" transform="translate(1220,540) rotate(-40)"/>
<use href="#c" transform="translate(1450,595) rotate(140) scale(.6)"/><use href="#c" transform="translate(1414,623) rotate(140)"/><use href="#c" transform="translate(1375,657) rotate(140)"/><use href="#c" transform="translate(1340,685) rotate(140)"/>
<use href="#c" transform="translate(1268,624) scale(.5)"/><use href="#t" transform="translate(1326,707) rotate(-140)"/>
<use href="#c" transform="translate(1322,733) rotate(90) scale(.8)"/><use href="#c" transform="translate(1322,782) rotate(90) scale(.8)"/><use href="#c" transform="translate(1322,830) rotate(90) scale(.8)"/><use href="#c" transform="translate(1322,875) rotate(90) scale(.8)"/>
<use href="#c" transform="translate(1137,733) rotate(-90) scale(.8)"/><use href="#c" transform="translate(1137,778) rotate(-90) scale(.8)"/><use href="#c" transform="translate(1137,829) rotate(-90) scale(.8)"/><use href="#c" transform="translate(1137,875) rotate(-90) scale(.8)"/>
<use href="#c" transform="translate(1174,716) scale(.5)"/><use href="#c" transform="translate(1228,716) scale(.5)"/><use href="#a" transform="translate(1282,720) rotate(90)"/>
<use href="#t" transform="translate(1228,785)"/><use href="#a" transform="translate(1228,835)"/><use href="#a" transform="translate(1228,877)"/>
<use href="#c" transform="translate(1174,896) rotate(180) scale(.5)"/><use href="#a" transform="translate(1282,892) rotate(90)"/>
<use href="#el" x="1247" y="603"/><use href="#el" transform="translate(1197,700) scale(1.05)"/><use href="#el" transform="translate(1295,694) scale(1.05)"/>
</g>

<g id="legend">
<rect x="1191" y="951" width="227" height="119" fill="#e6f3fb" stroke="#8a9aaa"/>
<use href="#vi" x="1231" y="974"/><text class="lg" x="1231" y="992">观众检票口</text><text class="lh" x="1231" y="996">VISITOR</text><text class="lh" x="1231" y="1000">REGISTRATION</text><text class="lh" x="1231" y="1004">ENTRANCE</text>
<use href="#bu" transform="translate(1292,974) scale(.85)"/><text class="lg" x="1292" y="992">公交车站</text><text class="lh" x="1292" y="998">BUS</text><text class="lh" x="1292" y="1003">STATION</text>
<use href="#el" x="1350" y="974"/><text class="lg" x="1350" y="992">手扶电梯</text><text class="lh" x="1350" y="998">ELEVATOR</text>
<use href="#p" x="1407" y="974"/><text class="lg" x="1407" y="992">车辆停车区</text><text class="lh" x="1407" y="998">PARKING AREA</text>
<use href="#en" transform="translate(1231,1028) scale(1.3)"/><text class="lg" x="1231" y="1044">入口</text><text class="lh" x="1231" y="1050">ENTRANCE</text>
<use href="#ex" transform="translate(1291,1028) scale(1.3)"/><text class="lg" x="1291" y="1044">出口</text><text class="lh" x="1291" y="1050">EXIT</text>
<path class="dash" style="stroke-width:1.5;stroke-dasharray:3 2" d="M1339,1030H1362"/><text class="lg" x="1350" y="1044">隔断栏杆</text><text class="lh" x="1350" y="1050">SIDE RAIL</text>
<use href="#me" transform="translate(1400,1030) scale(.7)"/><text class="lg" x="1400" y="1043">地铁1号线</text><text class="lh" x="1400" y="1050">METRO LINE 1</text>
</g>
</svg>
